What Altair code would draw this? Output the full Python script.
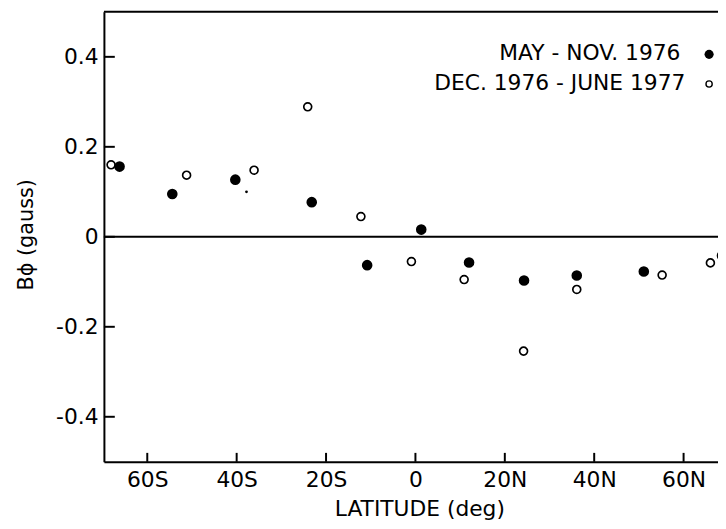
import altair as alt
import pandas as pd

# Data
lat_may = [-66.2, -54.4, -40.3, -23.2, -10.8, 1.3, 12.0, 24.3, 36.1, 51.1, 68.6]
b_may = [0.156, 0.095, 0.127, 0.077, -0.063, 0.016, -0.057, -0.097, -0.086, -0.077, -0.042]

lat_dec = [-68.1, -51.2, -36.1, -24.1, -12.2, -0.9, 10.9, 24.2, 36.1, 55.2, 66.0]
b_dec = [0.160, 0.137, 0.148, 0.289, 0.045, -0.055, -0.095, -0.254, -0.117, -0.085, -0.058]

lat_small = [-37.8]
b_small = [0.100]

x_ticks = [-60, -40, -20, 0, 20, 40, 60]
y_ticks = [-0.4, -0.2, 0.0, 0.2, 0.4]

legend_labels = ["MAY - NOV. 1976", "DEC. 1976 - JUNE 1977"]

FONT = "DejaVu Sans"
W, H = 621, 455

xscale = alt.Scale(domain=[-69.7, 67.7], nice=False, zero=False)
yscale = alt.Scale(domain=[-0.5, 0.5], nice=False, zero=False)

df_may = pd.DataFrame({"lat": lat_may, "b": b_may})
df_dec = pd.DataFrame({"lat": lat_dec, "b": b_dec})
df_small = pd.DataFrame({"lat": lat_small, "b": b_small})
df_xt = pd.DataFrame({"lat": x_ticks})
df_yt = pd.DataFrame({"b": y_ticks})

x_axis = alt.Axis(
    values=x_ticks, ticks=False, grid=False, domain=True, domainColor="black",
    domainWidth=2, labelFont=FONT, labelFontSize=22, labelColor="black",
    labelPadding=8, labelFlush=False,
    labelExpr="datum.value == 0 ? '0' : abs(datum.value) + (datum.value < 0 ? 'S' : 'N')",
    title="LATITUDE (deg)", titleFont=FONT, titleFontSize=22, titleFontWeight="normal",
    titleColor="black", titlePadding=8, titleX=319,
)
y_axis = alt.Axis(
    values=y_ticks, ticks=False, grid=False, domain=True, domainColor="black",
    domainWidth=2, labelFont=FONT, labelFontSize=22, labelColor="black",
    labelPadding=6, labelFlush=False,
    labelExpr="datum.value == 0 ? '0' : (datum.value < 0 ? '-' : '') + format(abs(datum.value), '.1f')",
    title="Bϕ (gauss)", titleFont=FONT, titleFontSize=21, titleFontWeight="normal",
    titleColor="black", titlePadding=19, titleY=225,
)


def X():
    return alt.X("lat:Q", scale=xscale, axis=x_axis)


def Y():
    return alt.Y("b:Q", scale=yscale, axis=y_axis)


may = alt.Chart(df_may).mark_point(
    filled=True, color="black", size=115, opacity=1, clip=True
).encode(x=X(), y=Y())

dec = alt.Chart(df_dec).mark_point(
    filled=False, color="black", size=64, strokeWidth=1.7, opacity=1, clip=True
).encode(x=X(), y=Y())

small = alt.Chart(df_small).mark_point(
    filled=True, color="black", size=8, opacity=1
).encode(x=X(), y=Y())

zero_line = alt.Chart(pd.DataFrame({"b": [0.0]})).mark_rule(
    color="black", strokeWidth=2
).encode(y=Y())

top_line = alt.Chart(pd.DataFrame({"b": [0.5]})).mark_rule(
    color="black", strokeWidth=2
).encode(y=Y())

y_tick_marks = alt.Chart(df_yt).mark_rule(color="black", strokeWidth=2).encode(
    y=Y(),
    x=alt.value(0),
    x2=alt.value(11),
)
x_tick_marks = alt.Chart(df_xt).mark_rule(color="black", strokeWidth=2).encode(
    x=X(),
    y=alt.value(H),
    y2=alt.value(H - 9),
)

leg_df = pd.DataFrame({"label": legend_labels, "row": [0, 1]})
leg_text0 = alt.Chart(leg_df[leg_df.row == 0]).mark_text(
    font=FONT, fontSize=22, align="right", baseline="alphabetic", color="black"
).encode(text="label:N", x=alt.value(583), y=alt.value(49))
leg_text1 = alt.Chart(leg_df[leg_df.row == 1]).mark_text(
    font=FONT, fontSize=22, align="right", baseline="alphabetic", color="black"
).encode(text="label:N", x=alt.value(588), y=alt.value(79))
leg_dot0 = alt.Chart(leg_df[leg_df.row == 0]).mark_point(
    filled=True, color="black", size=85, opacity=1
).encode(x=alt.value(612), y=alt.value(43))
leg_dot1 = alt.Chart(leg_df[leg_df.row == 1]).mark_point(
    filled=False, color="black", size=40, strokeWidth=1.4, opacity=1
).encode(x=alt.value(612), y=alt.value(73))

chart = alt.layer(
    zero_line, top_line, y_tick_marks, x_tick_marks, may, dec, small,
    leg_text0, leg_text1, leg_dot0, leg_dot1,
).properties(
    width=W, height=H,
    autosize=alt.AutoSizeParams(type="none"),
    padding={"left": 97, "top": 1, "right": 0, "bottom": 57},
    background="white",
).configure_view(stroke=None)

chart.save("out.html", embed_options={"renderer": "svg", "actions": False})
